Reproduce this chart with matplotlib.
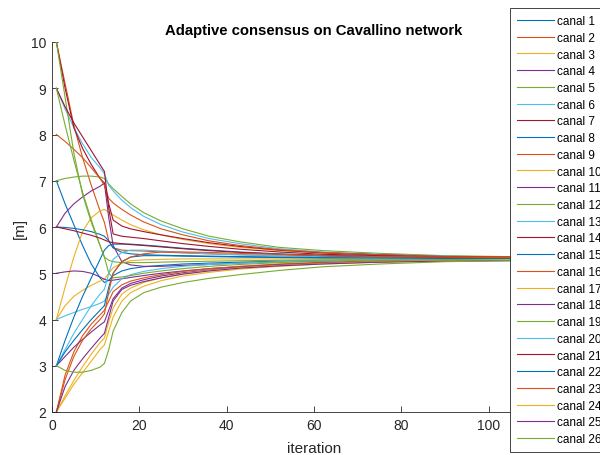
import matplotlib
matplotlib.use("Agg")
import matplotlib.pyplot as plt

plt.rcParams['font.family'] = ['Liberation Sans', 'DejaVu Sans']

iterations = [1, 3, 5, 7, 9, 11, 12, 13, 14, 16, 18, 21, 25, 30, 36, 43, 52, 62, 75, 90, 104, 120]

canal_1 = [7.0, 6.5, 6.05, 5.6, 5.2, 4.9, 4.8, 4.85, 4.95, 5.05, 5.1, 5.14, 5.17, 5.2, 5.22, 5.24, 5.26, 5.27, 5.28, 5.29, 5.30, 5.30]
canal_2 = [10.0, 9.1, 8.2, 7.5, 6.9, 6.35, 6.1, 5.7, 5.55, 5.5, 5.49, 5.48, 5.46, 5.44, 5.42, 5.40, 5.38, 5.36, 5.35, 5.34, 5.33, 5.33]
canal_3 = [4.0, 4.7, 5.35, 5.9, 6.2, 6.35, 6.38, 6.32, 6.26, 6.15, 6.05, 5.94, 5.83, 5.73, 5.64, 5.56, 5.49, 5.44, 5.40, 5.37, 5.35, 5.34]
canal_4 = [6.0, 6.3, 6.5, 6.65, 6.78, 6.88, 6.95, 6.2, 5.6, 5.25, 5.18, 5.15, 5.15, 5.17, 5.19, 5.22, 5.25, 5.27, 5.29, 5.30, 5.31, 5.31]
canal_5 = [7.0, 7.05, 7.08, 7.1, 7.1, 7.08, 7.05, 6.93, 6.83, 6.66, 6.50, 6.31, 6.13, 5.96, 5.80, 5.68, 5.56, 5.49, 5.43, 5.38, 5.36, 5.35]
canal_6 = [9.0, 8.55, 8.15, 7.8, 7.5, 7.28, 7.15, 6.90, 6.78, 6.58, 6.42, 6.23, 6.05, 5.89, 5.75, 5.64, 5.53, 5.46, 5.41, 5.37, 5.35, 5.34]
canal_7 = [10.0, 9.0, 8.15, 7.7, 7.35, 7.05, 6.95, 6.5, 6.15, 6.02, 5.96, 5.9, 5.83, 5.75, 5.66, 5.58, 5.50, 5.44, 5.40, 5.36, 5.35, 5.34]
canal_8 = [6.0, 5.99, 5.97, 5.94, 5.9, 5.84, 5.8, 5.7, 5.55, 5.45, 5.42, 5.40, 5.39, 5.38, 5.37, 5.36, 5.35, 5.34, 5.33, 5.33, 5.32, 5.32]
canal_9 = [8.0, 7.85, 7.68, 7.5, 7.28, 7.05, 6.9, 6.62, 6.52, 6.38, 6.26, 6.11, 5.96, 5.83, 5.70, 5.60, 5.51, 5.45, 5.40, 5.36, 5.35, 5.34]
canal_10 = [4.0, 4.3, 4.5, 4.63, 4.74, 4.83, 4.87, 5.0, 5.12, 5.22, 5.27, 5.29, 5.30, 5.31, 5.31, 5.31, 5.31, 5.31, 5.31, 5.31, 5.31, 5.31]
canal_11 = [5.0, 5.03, 5.05, 5.04, 5.0, 4.92, 4.87, 4.84, 4.85, 4.88, 4.91, 4.95, 5.0, 5.05, 5.1, 5.14, 5.19, 5.22, 5.25, 5.27, 5.28, 5.29]
canal_12 = [10.0, 8.8, 7.6, 6.7, 6.1, 5.6, 5.35, 5.28, 5.25, 5.23, 5.23, 5.23, 5.24, 5.25, 5.26, 5.27, 5.28, 5.29, 5.30, 5.30, 5.31, 5.31]
canal_13 = [4.0, 4.08, 4.15, 4.22, 4.28, 4.35, 4.4, 4.55, 4.7, 4.88, 4.97, 5.04, 5.1, 5.15, 5.19, 5.22, 5.25, 5.27, 5.29, 5.30, 5.30, 5.30]
canal_14 = [9.0, 8.6, 8.25, 7.95, 7.65, 7.35, 7.2, 6.4, 5.85, 5.8, 5.78, 5.75, 5.70, 5.64, 5.58, 5.52, 5.46, 5.41, 5.38, 5.35, 5.34, 5.33]
canal_15 = [3.0, 3.55, 4.05, 4.5, 4.9, 5.3, 5.5, 5.6, 5.63, 5.63, 5.63, 5.61, 5.58, 5.54, 5.5, 5.46, 5.42, 5.39, 5.36, 5.34, 5.33, 5.33]
canal_16 = [2.0, 2.8, 3.3, 3.65, 3.9, 4.1, 4.2, 4.4, 4.6, 4.75, 4.83, 4.9, 4.97, 5.04, 5.1, 5.15, 5.2, 5.24, 5.27, 5.29, 5.30, 5.30]
canal_17 = [2.0, 2.3, 2.6, 2.85, 3.1, 3.35, 3.45, 3.75, 4.05, 4.4, 4.58, 4.72, 4.84, 4.94, 5.02, 5.09, 5.15, 5.2, 5.24, 5.27, 5.28, 5.29]
canal_18 = [3.0, 3.2, 3.4, 3.57, 3.73, 3.88, 3.95, 4.2, 4.45, 4.68, 4.78, 4.86, 4.94, 5.01, 5.07, 5.13, 5.18, 5.22, 5.25, 5.27, 5.28, 5.29]
canal_19 = [9.0, 8.2, 7.45, 6.75, 6.15, 5.6, 5.35, 5.0, 4.9, 4.92, 4.95, 5.0, 5.05, 5.1, 5.15, 5.19, 5.23, 5.26, 5.28, 5.29, 5.30, 5.30]
canal_20 = [3.0, 3.35, 3.7, 4.0, 4.3, 4.55, 4.65, 5.0, 5.3, 5.45, 5.5, 5.5, 5.48, 5.45, 5.42, 5.40, 5.38, 5.36, 5.35, 5.34, 5.33, 5.33]
canal_21 = [6.0, 5.96, 5.92, 5.87, 5.82, 5.76, 5.72, 5.68, 5.66, 5.64, 5.62, 5.60, 5.57, 5.53, 5.49, 5.45, 5.41, 5.38, 5.36, 5.34, 5.33, 5.33]
canal_22 = [3.0, 3.3, 3.55, 3.78, 4.0, 4.2, 4.3, 4.7, 5.0, 5.25, 5.35, 5.38, 5.38, 5.37, 5.36, 5.35, 5.34, 5.33, 5.33, 5.32, 5.32, 5.32]
canal_23 = [2.0, 2.7, 3.2, 3.55, 3.8, 4.0, 4.12, 4.6, 5.0, 5.25, 5.35, 5.42, 5.46, 5.46, 5.45, 5.43, 5.41, 5.38, 5.36, 5.35, 5.34, 5.33]
canal_24 = [2.0, 2.35, 2.68, 2.98, 3.25, 3.5, 3.6, 3.95, 4.25, 4.55, 4.68, 4.8, 4.9, 4.99, 5.06, 5.12, 5.17, 5.21, 5.25, 5.27, 5.29, 5.29]
canal_25 = [2.0, 2.55, 2.9, 3.15, 3.38, 3.6, 3.7, 4.05, 4.4, 4.65, 4.74, 4.82, 4.9, 4.98, 5.05, 5.11, 5.16, 5.2, 5.24, 5.26, 5.27, 5.28]
canal_26 = [3.0, 2.9, 2.86, 2.86, 2.9, 2.97, 3.05, 3.35, 3.75, 4.15, 4.4, 4.58, 4.7, 4.8, 4.89, 4.97, 5.06, 5.14, 5.2, 5.25, 5.27, 5.28]

canals = [canal_1, canal_2, canal_3, canal_4, canal_5, canal_6, canal_7, canal_8, canal_9,
          canal_10, canal_11, canal_12, canal_13, canal_14, canal_15, canal_16, canal_17,
          canal_18, canal_19, canal_20, canal_21, canal_22, canal_23, canal_24, canal_25, canal_26]
labels = [f"canal {i + 1}" for i in range(len(canals))]

matlab_colors = ['#0072BD', '#D95319', '#EDB120', '#7E2F8E', '#77AC30', '#4DBEEE', '#A2142F']

x_ticks = [0, 20, 40, 60, 80, 100]
y_ticks = [2, 3, 4, 5, 6, 7, 8, 9, 10]

fig = plt.figure(figsize=(6.0, 4.56), dpi=100)
ax = fig.add_axes([52 / 600, 43 / 456, (576 - 52) / 600, 370 / 456])

handles = []
for i, vals in enumerate(canals):
    h, = ax.plot(iterations, vals, color=matlab_colors[i % 7], lw=0.8, label=labels[i])
    handles.append(h)

axis_col = '#262626'
ax.set_xlim(0, 120)
ax.set_ylim(2, 10)
ax.set_xticks(x_ticks)
ax.set_yticks(y_ticks)
ax.tick_params(direction='in', length=4, width=0.6, colors=axis_col, labelsize=10, pad=4)
for s in ['top', 'right']:
    ax.spines[s].set_visible(False)
for s in ['left', 'bottom']:
    ax.spines[s].set_color(axis_col)
    ax.spines[s].set_linewidth(0.6)

ax.set_title('Adaptive consensus on Cavallino network', fontsize=10.75, fontweight='bold', pad=6)
ax.set_xlabel('iteration', fontsize=11, color=axis_col, labelpad=7)
ax.set_ylabel('[m]', fontsize=11, color=axis_col, labelpad=3)

leg = fig.legend(handles=handles, labels=labels, loc='upper left',
                 bbox_to_anchor=(510 / 600, 1 - 9 / 456), bbox_transform=fig.transFigure,
                 fontsize=8.5, frameon=True, fancybox=False, framealpha=1,
                 borderaxespad=0, borderpad=0.6, labelspacing=0.40,
                 handlelength=3.1, handletextpad=0.3)
leg.get_frame().set_edgecolor(axis_col)
leg.get_frame().set_linewidth(0.6)

fig.savefig('out.png', dpi=100)
